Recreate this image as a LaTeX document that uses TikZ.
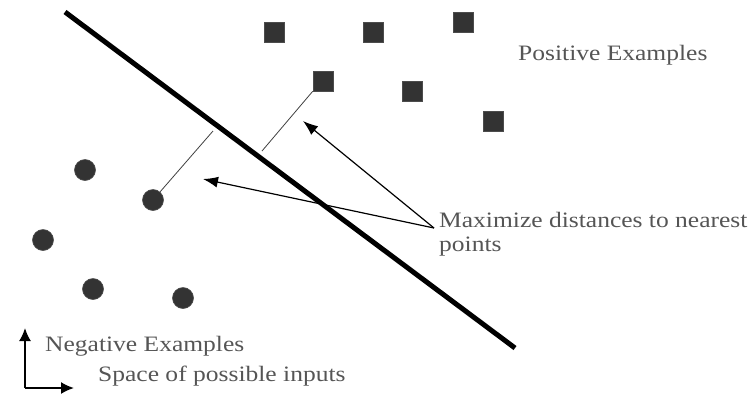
\documentclass[tikz,border=0pt]{standalone}
\usepackage{fontspec}
\setmainfont{Liberation Serif}
\newfontfamily\lblfont[FakeStretch=1.16]{Liberation Serif}
\usetikzlibrary{arrows.meta}
\definecolor{shapecol}{HTML}{333333}
\definecolor{textcol}{HTML}{555555}
\begin{document}
\begin{tikzpicture}[x=1pt,y=-1pt,
  possq/.style={rectangle,fill=shapecol,draw=black!70,line width=0.6pt,minimum size=20pt,inner sep=0pt},
  negdot/.style={circle,fill=shapecol,draw=black!70,line width=0.6pt,minimum size=21pt,inner sep=0pt},
  lbl/.style={text=textcol,font=\lblfont\fontsize{22}{24}\selectfont,inner sep=0pt,anchor=west},
  thinline/.style={draw=black!75,line width=0.8pt},
  ptr/.style={draw=black,line width=1.2pt,-{Latex[length=15pt,width=11pt]}},
  axarrow/.style={draw=black,line width=1.8pt,-{Latex[length=13pt,width=12pt]}}]
\useasboundingbox (0,0) rectangle (749,397);
% separator
\coordinate (s1) at (65,12);
\coordinate (s2) at (515,348);
\draw[line width=5pt] (s1) -- (s2);
% positive examples
\node[possq] (p1) at (274,32) {};
\node[possq] (p2) at (373,32) {};
\node[possq] (p3) at (463,22) {};
\node[possq] (p4) at (323,81) {};
\node[possq] (p5) at (412,91) {};
\node[possq] (p6) at (493,121) {};
% negative examples
\node[negdot] (n1) at (85,170) {};
\node[negdot] (n2) at (153,200) {};
\node[negdot] (n3) at (43,240) {};
\node[negdot] (n4) at (93,289) {};
\node[negdot] (n5) at (183,298) {};
% distance lines
\coordinate (d1) at (213,131);
\coordinate (d2) at (262,151);
\draw[thinline] (n2) -- (d1);
\draw[thinline] (p4.south west) -- (d2);
% labels
\node[lbl] (pos) at (518,55) {Positive Examples};
\node[lbl,align=left,anchor=north west] (max) at (439,212) {Maximize distances to nearest\\points};
\node[lbl] (neg) at (45,346) {Negative Examples};
\node[lbl] (space) at (98,376) {Space of possible inputs};
% arrows
\coordinate (tail) at (434,228);
\coordinate (h1) at (303,121);
\coordinate (h2) at (203,179);
\draw[ptr] (tail) -- (h1);
\draw[ptr] (tail) -- (h2);
% axes
\coordinate (o) at (25,388);
\coordinate (ay) at (25,328);
\coordinate (ax) at (74,388);
\draw[axarrow] (o) -- (ay);
\draw[axarrow] (o) -- (ax);
\end{tikzpicture}
\end{document}
